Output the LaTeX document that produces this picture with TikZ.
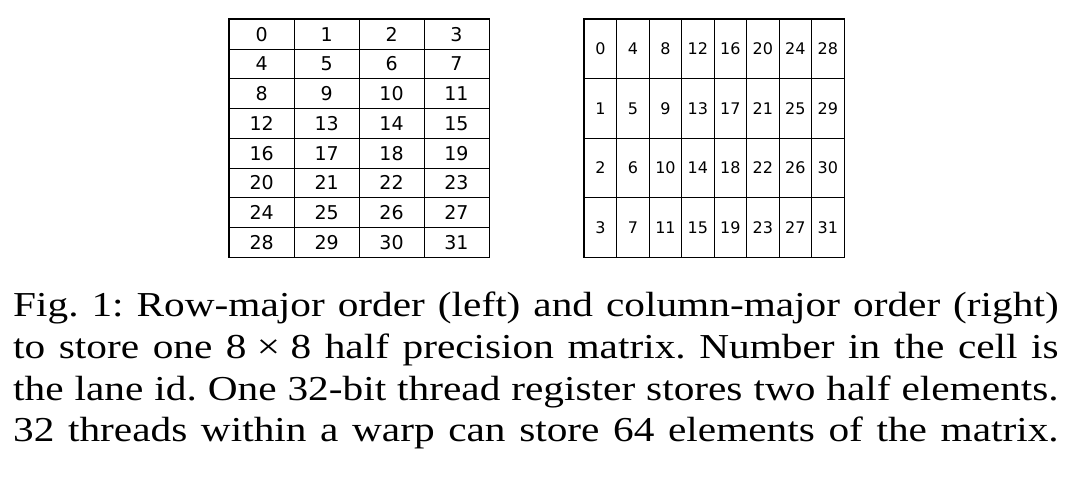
\documentclass[tikz,border=0pt]{standalone}
\usepackage{fontspec}
\setmainfont{Liberation Serif}
\newfontfamily\cellfont{DejaVu Sans}
\newlength{\capw}
\setlength{\capw}{886pt}
\newcommand{\capline}[1]{\makebox[\capw][s]{#1}\par}
\begin{document}
\begin{tikzpicture}[x=1pt,y=-1pt,
  lcell/.style={draw=black,line width=0.7pt,minimum width=64.9pt,minimum height=29.75pt,inner sep=0pt,font=\cellfont\fontsize{19}{22}\selectfont},
  rcell/.style={draw=black,line width=0.7pt,minimum width=32.46pt,minimum height=59.5pt,inner sep=0pt,font=\cellfont\fontsize{16}{19}\selectfont},
  frame/.style={draw=black,line width=1.5pt},
  caption/.style={anchor=base west,inner sep=0pt}]
\useasboundingbox (0,0) rectangle (1075,501);
% left grid: row-major
\foreach \r in {0,...,7}{
  \foreach \c in {0,...,3}{
    \pgfmathtruncatemacro{\v}{4*\r+\c}
    \node[lcell] (L-\r-\c) at ({229.3+64.9*(\c+0.5)},{19.3+29.75*(\r+0.5)}) {\v};
  }
}
\draw[frame] (L-0-0.north west) rectangle (L-7-3.south east);
% right grid: column-major
\foreach \r in {0,...,3}{
  \foreach \c in {0,...,7}{
    \pgfmathtruncatemacro{\v}{4*\c+\r}
    \node[rcell] (R-\r-\c) at ({584.3+32.46*(\c+0.5)},{19.3+59.5*(\r+0.5)}) {\v};
  }
}
\draw[frame] (R-0-0.north west) rectangle (R-3-7.south east);
% caption
\node[caption] (cap) at (13,316.7) {\scalebox{1.18}[1]{\parbox[t]{\capw}{\fontsize{35}{41.7}\selectfont\frenchspacing
\capline{Fig. 1: Row-major order (left) and column-major order (right)}
\capline{to store one 8\hspace{0.25em}×\hspace{0.25em}8 half precision matrix. Number in the cell is}
\capline{the lane id. One 32-bit thread register stores two half elements.}
\capline{32 threads within a warp can store 64 elements of the matrix.}}}};
\end{tikzpicture}
\end{document}
